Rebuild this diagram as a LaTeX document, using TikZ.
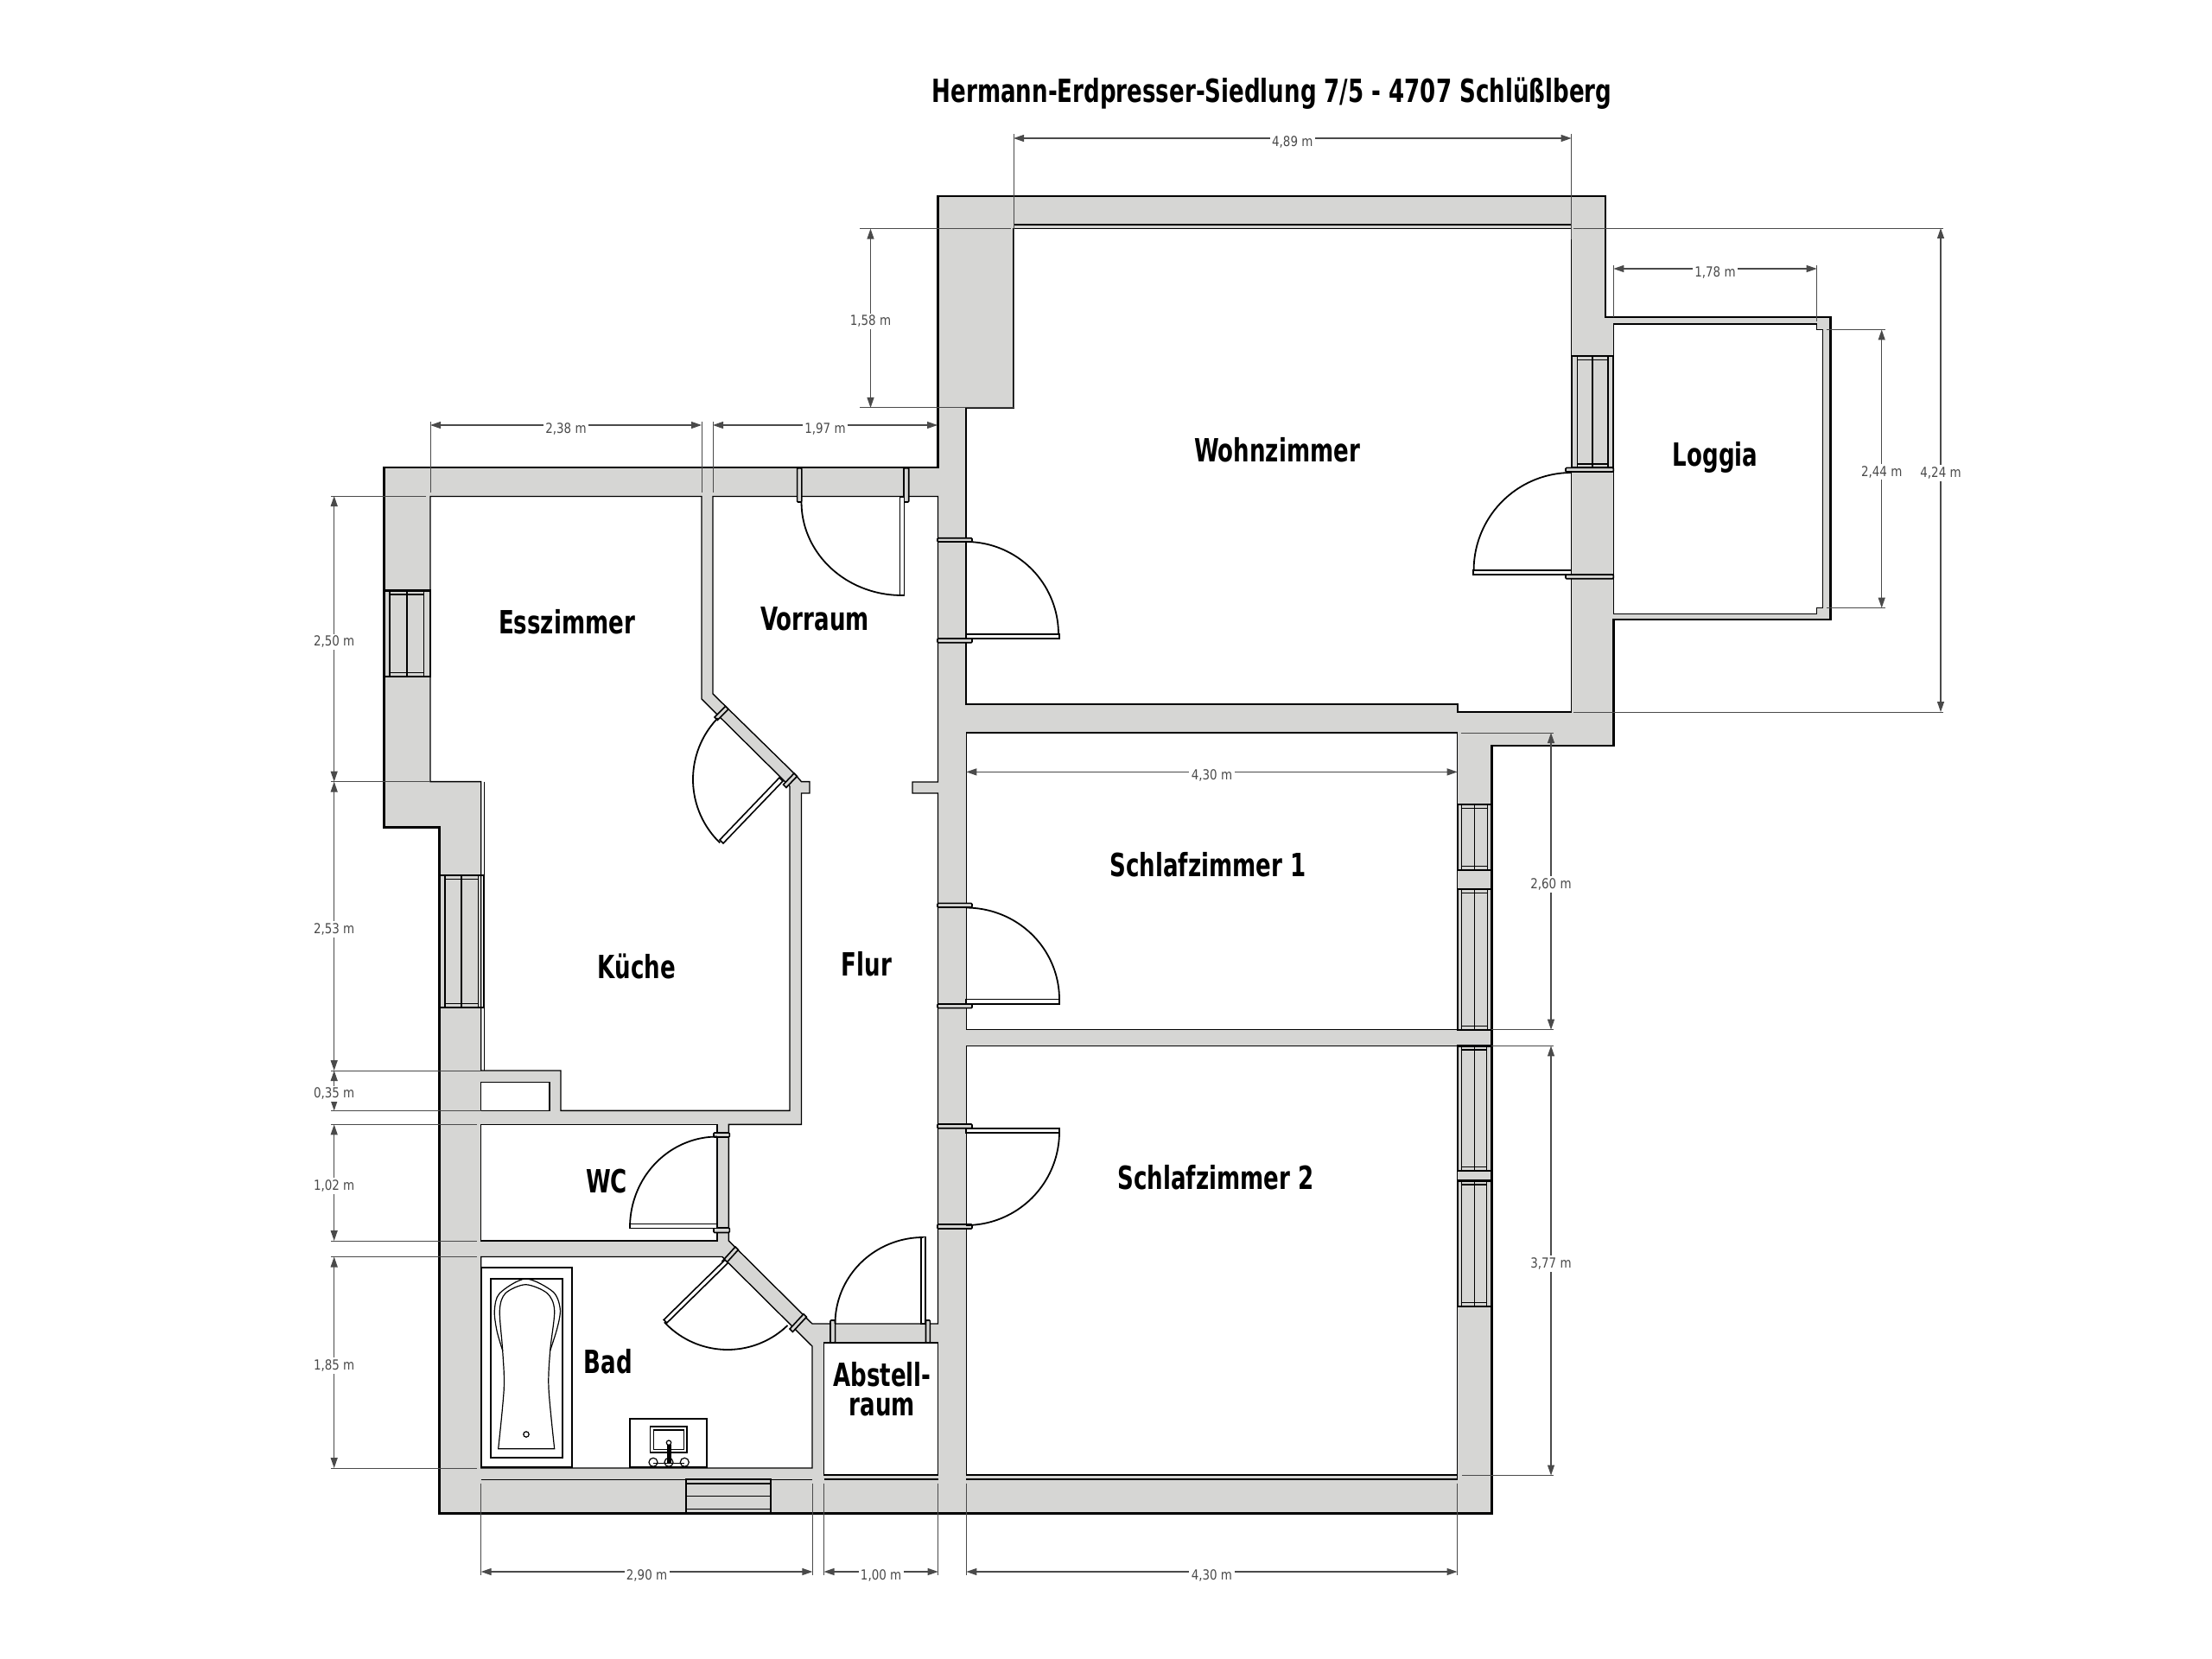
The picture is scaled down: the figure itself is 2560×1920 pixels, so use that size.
\documentclass[tikz,border=0pt]{standalone}
\usepackage{fontspec}
\usetikzlibrary{arrows.meta}
\newfontfamily\roomfont{DejaVu Sans}[FakeStretch=0.705]
\newfontfamily\dimfont{DejaVu Sans}[FakeStretch=0.84]
\definecolor{wallgrey}{HTML}{D6D6D4}
\definecolor{dimgrey}{HTML}{4A4A4A}
\tikzset{
	wall/.style={fill=wallgrey},
	outerline/.style={line width=1.45pt,line join=miter},
	room/.style={fill=white,draw=black,line width=0.7pt},
	thinline/.style={draw=black,line width=0.6pt},
	frame/.style={draw=black,line width=1.1pt},
	hinge/.style={fill=wallgrey,draw=black,line width=0.8pt},
	leaf/.style={fill=white,draw=black,line width=0.8pt},
	swing/.style={draw=black,line width=0.9pt},
	extline/.style={draw=dimgrey,line width=0.5pt},
	dimline/.style={draw=dimgrey,line width=0.6pt,{Triangle[length=6pt,width=4pt]}-{Triangle[length=6pt,width=4pt]}},
	dimlabel/.style={fill=white,inner sep=1.2pt,text=dimgrey,font=\dimfont\fontsize{8}{9}\selectfont,yshift=-1.8pt},
	dimlabelh/.style={dimlabel,yshift=-0.3pt},
	roomlabel/.style={align=center,font=\roomfont\bfseries\fontsize{18.5}{17}\selectfont},
}

\begin{document}
\begin{tikzpicture}[x=0.5pt,y=-0.5pt]
	\useasboundingbox (0,0) rectangle (2560,1920);

	% walls
	\fill[wall] (1085.5,227) -- (1858,227) -- (1858,367) -- (2118.3,367) -- (2118.3,717) -- (1867.3,717) -- (1867.3,863) -- (1726.5,863) -- (1726.5,1751.5) -- (508.5,1751.5) -- (508.5,957.4) -- (444.6,957.4) -- (444.6,541) -- (1085.5,541) -- cycle;

	% rooms
	\draw[room] (1173,264.6) -- (1818.6,264.6) -- (1818.6,824) -- (1687,824) -- (1687,815) -- (1118,815) -- (1118,472) -- (1173,472) -- cycle;
	\draw[room] (1118.3,848) rectangle (1686.7,1191.4);
	\draw[room] (1118.3,1210.4) rectangle (1686.7,1707);
	\draw[room] (953.5,1554) rectangle (1085.7,1707);
	\draw[room] (556.7,1301.4) rectangle (830,1436);
	\draw[room] (556.7,1252.5) rectangle (636,1285.4);
	\draw[room] (1867.3,375) -- (2102.7,375) -- (2102.7,381.5) -- (2109.3,381.5) -- (2109.3,703.6) -- (2102.7,703.6) -- (2102.7,710.4) -- (1867.3,710.4) -- cycle;
	\draw[room] (498,574.5) -- (812,574.5) -- (812,809) -- (914,910) -- (914,1285.4) -- (649,1285.4) -- (649,1239) -- (556.7,1239) -- (556.7,904.6) -- (498,904.6) -- cycle;
	\draw[room] (825,574.5) -- (1085.5,574.5) -- (1085.5,905) -- (1056,905) -- (1056,918) -- (1085.5,918) -- (1085.5,1532) -- (940,1532) -- (843.4,1436) -- (843.4,1301.4) -- (927.5,1301.4) -- (927.5,918) -- (937,918) -- (937,904.6) -- (927.5,904.6) -- (919,895) -- (825,803) -- cycle;
	\draw[room] (556.7,1454.5) -- (835.8,1454.5) -- (940,1558) -- (940,1699) -- (556.7,1699) -- cycle;
	\draw[thinline] (560.7,904.6) -- (560.7,1239);
	\draw[thinline] (556.7,1712.3) -- (940,1712.3);
	\draw[thinline] (953.5,1712) -- (1085.7,1712);
	\draw[thinline] (1118.3,1712) -- (1686.7,1712) -- (1686.7,1707);
	\draw[thinline] (1173,260) -- (1818.6,260);

	% outside of the building
	\draw[outerline] (1085.5,227) -- (1858,227) -- (1858,367) -- (2118.3,367) -- (2118.3,717) -- (1867.3,717) -- (1867.3,863) -- (1726.5,863) -- (1726.5,1751.5) -- (508.5,1751.5) -- (508.5,957.4) -- (444.6,957.4) -- (444.6,541) -- (1085.5,541) -- cycle;

	% windows
	\foreach \xa/\xb/\ya/\yb/\xc/\xd/\xe in {444.6/498/683.5/783/451/471/490.5,
			508.3/560/1013/1166/515/534/553.3,
			1818.6/1867.3/411.8/541.4/1825.5/1843/1861,
			1686.7/1726.5/930.7/1006.7/1691.7/1706.7/1721.7,
			1686.7/1726.5/1029/1191.7/1691.7/1706.7/1721.7,
			1686.7/1726.5/1210.4/1355/1691.7/1706.3/1720.7,
			1686.7/1726.5/1366.4/1512/1691.7/1706.3/1720.7}{
		\draw[frame] (\xa,\ya) rectangle (\xb,\yb);
		\draw[thinline] (\xc,\ya) -- (\xc,\yb) (\xd,\ya) -- (\xd,\yb) (\xe,\ya) -- (\xe,\yb);
		\draw[thinline] (\xc,\ya+4.5) -- (\xe,\ya+4.5) (\xc,\yb-4.5) -- (\xe,\yb-4.5);
	}
	\draw[frame] (794.3,1712.3) rectangle (892,1751);
	\draw[thinline] (794.3,1717) -- (892,1717) (794.3,1731.7) -- (892,1731.7) (794.3,1746.7) -- (892,1746.7);

	% doors
	\foreach \xa/\ya/\xb/\yb in {1085/622.7/1125/627, 1085/739/1125/743.7,
			1812/541.4/1867.3/546, 1812/665/1867.3/669.7,
			1085/1045.4/1125/1050, 1085/1162/1125/1166.6,
			1085/1301/1125/1305.7, 1085/1417/1125/1422,
			826/1311/844.3/1316, 826/1421/844.3/1426.5,
			922.6/541.7/927.8/581, 1046/541.7/1051.7/581,
			961/1528/966.6/1554, 1071.5/1528/1076.4/1554}
		\draw[hinge,rounded corners=0.5pt] (\xa,\ya) rectangle (\xb,\yb);
	\foreach \ax/\ay/\bx/\by/\cx/\cy/\dx/\dy in {839.6/817.4/843/820.8/830.4/833.4/827/830,
			919/895/922.4/898.4/910/911.4/906.6/908,
			851/1443/854.4/1446.4/839.4/1463/836/1459.5,
			930/1520.7/933.4/1524.1/917.4/1541.4/914/1538}
		\draw[hinge] (\ax,\ay) -- (\bx,\by) -- (\cx,\cy) -- (\dx,\dy) -- cycle;

	\foreach \xa/\ya/\xb/\yb in {1118/734/1226/739, 1705/660/1818.6/665,
			1118/1156.5/1226/1162, 1118/1305.7/1226/1311,
			729/1416.6/830/1421.5, 1041.5/575/1046.6/689, 1066/1431.5/1071/1532}
		\draw[leaf] (\xa,\ya) rectangle (\xb,\yb);
	\draw[leaf] (902,900) -- (906,904) -- (837,976) -- (833,972) -- cycle;
	\draw[leaf] (839,1458) -- (842.5,1461.6) -- (771.8,1531) -- (768.2,1527.4) -- cycle;

	\foreach \cx/\cy/\rx/\ry/\aa/\ab in {1043.5/581/116/108/180/90,
			904/902/102/102/224/134,
			1118/734/107/107/-90/0,
			1818.6/660/113/113/180/270,
			1118/1156.5/108/106/-90/0,
			1118/1310/108/108/0/90,
			830/1420.5/101/105/180/270,
			842/1462/100/100/137/46,
			1068.5/1532/102/100/180/270}
		\draw[swing] plot[smooth,samples=25,domain=\aa:\ab] ({\cx+\rx*cos(\x)},{\cy+\ry*sin(\x)});

	% bath tub
	\draw[frame] (557,1467) rectangle (662,1698);
	\draw[thinline] (568,1480) rectangle (651,1687);
	\draw[thinline] plot[smooth] coordinates {(576.7,1676.7) (583.3,1606.7) (581.7,1563) (578.3,1516.7) (585,1496.7) (608.3,1486.7) (633.3,1496.7) (641.7,1516.7) (636.7,1563) (635,1606.7) (641.7,1676.7)} -- cycle;
	\draw[thinline] plot[smooth] coordinates {(581.7,1563) (575,1540) (572.3,1516.7) (578.3,1496.7) (608.3,1480) (640,1495) (648.3,1515) (645,1536.7) (636.7,1563)};
	\draw[thinline] (609,1660) circle[radius=3.2];

	% wash basin
	\draw[frame] (729,1642) rectangle (818,1698);
	\draw[thinline] (752.7,1651) rectangle (795,1681);
	\draw[thinline] (756.7,1655) rectangle (791.7,1677.7);
	\draw[fill=white,thinline] (774,1669.7) circle[radius=2.7];
	\draw[fill=black] (772,1672) rectangle (776,1692);
	\foreach \xa in {756,774,792.3}
		\draw[thinline] (\xa,1692.3) circle[radius=5];
	\draw[thinline] (756,1693.5) -- (792.3,1693.5);

	% dimensions
	\draw[extline] (1173,155) -- (1173,472) (1818.6,155) -- (1818.6,277);
	\draw[extline] (995,264.6) -- (1170,264.6) (1821,264.6) -- (2249,264.6);
	\draw[extline] (995,472) -- (1173,472);
	\draw[extline] (1821,824) -- (2249,824);
	\draw[extline] (1867.3,307) -- (1867.3,367) (2102.7,307) -- (2102.7,372);
	\draw[extline] (2114,381.5) -- (2181.7,381.5) (2114,703.6) -- (2181.7,703.6);
	\draw[extline] (498,488) -- (498,570) (812,488) -- (812,570) (825,488) -- (825,570);
	\draw[extline] (383,574) -- (493,574) (383,904.6) -- (498,904.6);
	\draw[extline] (383,1239) -- (557,1239) (383,1285.4) -- (557,1285.4);
	\draw[extline] (383,1301.4) -- (552,1301.4) (383,1436) -- (552,1436);
	\draw[extline] (383,1454.5) -- (552,1454.5) (383,1699) -- (552,1699);
	\draw[extline] (1690.7,848) -- (1798,848) (1726,1191.7) -- (1798,1191.7);
	\draw[extline] (1726,1210.4) -- (1798,1210.4) (1692,1707.5) -- (1798,1707.5);
	\foreach \xa in {556.7,940.4,953.5,1085.7,1118.4,1686.5}
		\draw[extline] (\xa,1716.7) -- (\xa,1823);

	\draw[dimline] (1173,160) -- node[dimlabelh] (dimtop) {4,89 m} (1818.6,160);
	\draw[dimline] (1867.3,311) -- node[dimlabelh] (dimloggiatop) {1,78 m} (2102.7,311);
	\draw[dimline] (498,492) -- node[dimlabelh] (dimess) {2,38 m} (812,492);
	\draw[dimline] (825,492) -- node[dimlabelh] (dimvor) {1,97 m} (1085,492);
	\draw[dimline] (1118.3,893.4) -- node[dimlabelh] (dimschlaf) {4,30 m} (1686.7,893.4);
	\draw[dimline] (556.7,1819) -- node[dimlabelh] (dimbad) {2,90 m} (940.4,1819);
	\draw[dimline] (953.5,1819) -- node[dimlabelh] (dimabst) {1,00 m} (1085.7,1819);
	\draw[dimline] (1118.4,1819) -- node[dimlabelh] (dimbottom) {4,30 m} (1686.5,1819);
	\draw[dimline] (1007.5,264.6) -- node[dimlabel] (dimchimney) {1,58 m} (1007.5,472);
	\draw[dimline] (2246,264) -- node[dimlabel] (dimright) {4,24 m} (2246,824);
	\draw[dimline] (2177.7,381.5) -- node[dimlabel] (dimloggia) {2,44 m} (2177.7,703.6);
	\draw[dimline] (1795,848) -- node[dimlabel] (dimfenster) {2,60 m} (1795,1191.7);
	\draw[dimline] (1795,1210.4) -- node[dimlabel] (dimfenstertwo) {3,77 m} (1795,1707.5);
	\draw[dimline] (386.7,574) -- node[dimlabel] (dimwest) {2,50 m} (386.7,904.6);
	\draw[dimline] (386.7,904.6) -- node[dimlabel] (dimkueche) {2,53 m} (386.7,1239);
	\draw[dimline] (386.7,1239) -- node[dimlabel] (dimnische) {0,35 m} (386.7,1285.4);
	\draw[dimline] (386.7,1301.4) -- node[dimlabel] (dimwc) {1,02 m} (386.7,1436);
	\draw[dimline] (386.7,1454.5) -- node[dimlabel] (dimwanne) {1,85 m} (386.7,1699);

	% labels
	\node[roomlabel] (title) at (1472,108) {Hermann-Erdpresser-Siedlung 7/5 - 4707 Schlüßlberg};
	\node[roomlabel] (wohnzimmer) at (1478,521) {Wohnzimmer};
	\node[roomlabel] (loggia) at (1985,529) {Loggia};
	\node[roomlabel] (esszimmer) at (656,720) {Esszimmer};
	\node[roomlabel] (vorraum) at (943,716) {Vorraum};
	\node[roomlabel] (kueche) at (737,1118) {Küche};
	\node[roomlabel] (flur) at (1003,1116) {Flur};
	\node[roomlabel] (schlafeins) at (1398,1001) {Schlafzimmer 1};
	\node[roomlabel] (schlafzwei) at (1407,1363) {Schlafzimmer 2};
	\node[roomlabel] (wc) at (702,1367) {WC};
	\node[roomlabel] (bad) at (704,1576) {Bad};
	\node[roomlabel] (abstell) at (1021,1608) {Abstell-\\raum};
\end{tikzpicture}
\end{document}
